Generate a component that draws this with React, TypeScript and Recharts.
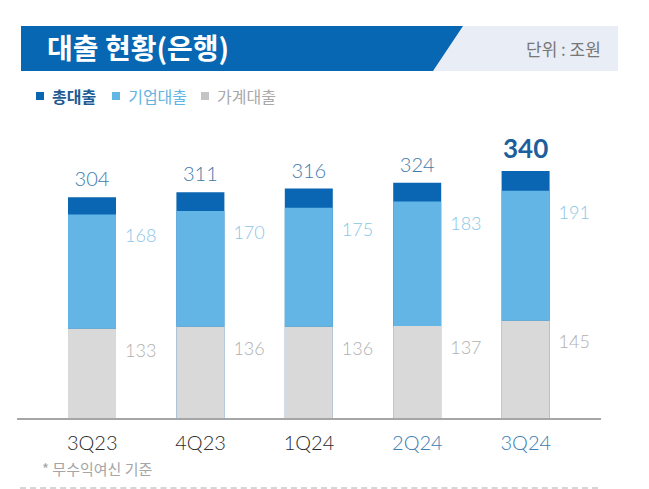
import React from "react";
import { BarChart, Bar, XAxis, YAxis, LabelList } from "recharts";

// 단위: 조원
const quarters = ["3Q23", "4Q23", "1Q24", "2Q24", "3Q24"];
const totalLoans = [304, 311, 316, 324, 340];
const corporateLoans = [168, 170, 175, 183, 191];
const householdLoans = [133, 136, 136, 137, 145];

const data = quarters.map((q, i) => ({
  quarter: q,
  total: totalLoans[i],
  corporate: corporateLoans[i],
  household: householdLoans[i],
}));

const KR = '"Noto Sans CJK KR", "Noto Sans", sans-serif';
const NUM = 'Lato, "Noto Sans", sans-serif';

const DARK = "#0a66b2";
const LIGHT = "#63b5e5";
const GRAY = "#d9d9d9";

const TotalLabel = (props: any) => {
  const { x, y, width, value, index } = props;
  const last = index === data.length - 1;
  return (
    <text
      x={x + width / 2}
      y={y - (last ? 23 : 19)}
      textAnchor="middle"
      dominantBaseline="central"
      fontFamily={NUM}
      fontSize={last ? 26 : 20}
      fontWeight={last ? 700 : 300}
      fill={last ? "#1d5f9c" : "#3f7bab"}
    >
      {value}
    </text>
  );
};

const SideLabel = (color: string) => (props: any) => {
  const { x, y, width, value } = props;
  return (
    <text
      x={x + width + 9}
      y={y + 21}
      textAnchor="start"
      dominantBaseline="central"
      fontFamily={NUM}
      fontSize={18}
      fontWeight={300}
      fill={color}
    >
      {value}
    </text>
  );
};

const QuarterTick = (props: any) => {
  const { x, y, payload, index } = props;
  return (
    <text
      x={x}
      y={y + 15}
      textAnchor="middle"
      dominantBaseline="central"
      fontFamily={NUM}
      fontSize={20}
      fontWeight={300}
      fill={index >= 3 ? "#3d7db3" : "#2b2b2b"}
    >
      {payload.value}
    </text>
  );
};

export default function App() {
  return (
    <div
      style={{
        position: "absolute",
        left: 0,
        top: 0,
        width: 649,
        height: 489,
        background: "#fff",
        overflow: "hidden",
        fontFamily: KR,
      }}
    >
      {/* header band */}
      <div style={{ position: "absolute", left: 21, top: 26, width: 597, height: 45, background: "#e9edf5" }} />
      <div
        style={{
          position: "absolute",
          left: 21,
          top: 26,
          width: 442,
          height: 45,
          background: "#0767b3",
          clipPath: "polygon(0 0, 100% 0, calc(100% - 30px) 100%, 0 100%)",
        }}
      />
      <div
        style={{
          position: "absolute",
          left: 47,
          top: 25,
          height: 45,
          lineHeight: "45px",
          color: "#fff",
          fontSize: 28,
          fontWeight: 700,
        }}
      >
        대출 현황(은행)
      </div>
      <div
        style={{
          position: "absolute",
          left: 526,
          top: 26,
          height: 45,
          lineHeight: "45px",
          color: "#777",
          fontSize: 17,
        }}
      >
        단위 : 조원
      </div>

      {/* legend */}
      <div style={{ position: "absolute", left: 36, top: 84, display: "flex", alignItems: "center", fontSize: 16 }}>
        <span style={{ width: 8, height: 8, background: DARK, marginRight: 8 }} />
        <span style={{ color: "#1d5a93", fontWeight: 700, marginRight: 16 }}>총대출</span>
        <span style={{ width: 8, height: 8, background: LIGHT, marginRight: 8 }} />
        <span style={{ color: "#62b3e2", marginRight: 14 }}>기업대출</span>
        <span style={{ width: 8, height: 8, background: "#c4c4c4", marginRight: 8 }} />
        <span style={{ color: "#a8a8a8" }}>가계대출</span>
      </div>

      <div style={{ position: "absolute", left: 0, top: 0 }}>
        <BarChart
          width={649}
          height={489}
          data={data}
          margin={{ top: 120, right: 48, bottom: 40, left: 17 }}
          barSize={48}
        >
          <XAxis
            xAxisId="main"
            dataKey="quarter"
            height={30}
            padding={{ left: 21, right: 21 }}
            axisLine={{ stroke: "#a6a6a6", strokeWidth: 2 }}
            tickLine={false}
            tick={<QuarterTick />}
            interval={0}
          />
          <XAxis xAxisId="total" dataKey="quarter" hide padding={{ left: 21, right: 21 }} />
          <YAxis yAxisId="main" hide domain={[0, 440]} />
          <YAxis yAxisId="total" hide domain={[0, 410]} />
          <Bar xAxisId="total" yAxisId="total" dataKey="total" fill={DARK} isAnimationActive={false}>
            <LabelList dataKey="total" content={TotalLabel} />
          </Bar>
          <Bar xAxisId="main" yAxisId="main" dataKey="household" stackId="s" fill={GRAY} isAnimationActive={false}>
            <LabelList dataKey="household" content={SideLabel("#b0b0b0")} />
          </Bar>
          <Bar xAxisId="main" yAxisId="main" dataKey="corporate" stackId="s" fill={LIGHT} isAnimationActive={false}>
            <LabelList dataKey="corporate" content={SideLabel("#8ac6e8")} />
          </Bar>
        </BarChart>
      </div>

      {/* footnote */}
      <div style={{ position: "absolute", left: 42, top: 458, fontSize: 15, color: "#a5a5a5" }}>* 무수익여신 기준</div>
      <div style={{ position: "absolute", left: 20, top: 487, width: 578, borderTop: "2px dashed #d6d6d6" }} />
    </div>
  );
}
